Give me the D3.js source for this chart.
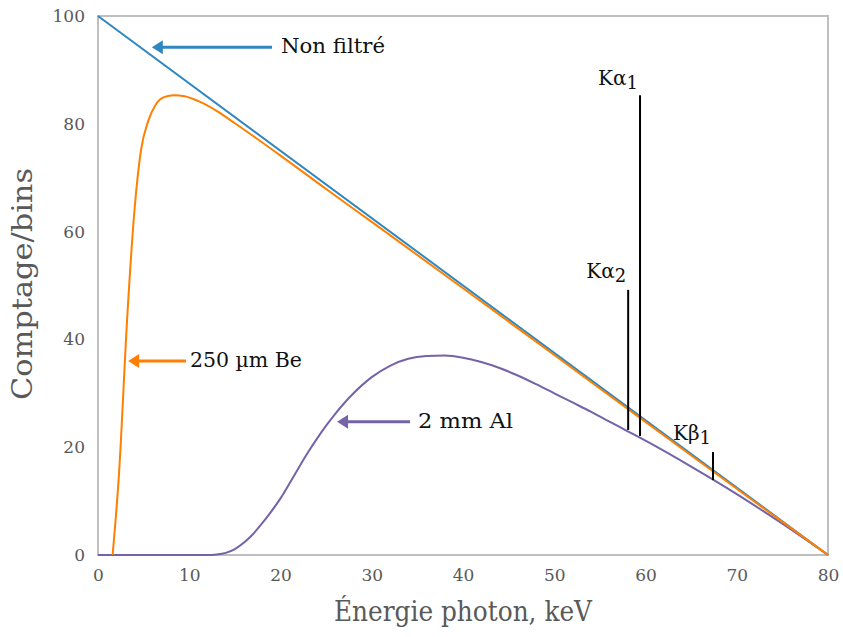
<!DOCTYPE html>
<html><head><meta charset="utf-8">
<script src="https://cdn.jsdelivr.net/npm/d3@7"></script>
<style>body{margin:0;background:#fff}svg{display:block}</style>
</head><body>
<svg id="c" width="843" height="637"></svg>
<script>
const xTicks=[0,10,20,30,40,50,60,70,80];
const yTicks=[0,20,40,60,80,100];
const unfiltered=[[0,100],[80,0]];
const be250=[[1.6,0],[2.3,15],[3.2,44],[4.0,64],[4.7,75],[5.5,80.5],[6.3,83.5],[7.3,85],[8.3,85.3],[9.5,85.1],[11,84.2],[13,82.4],[15,80.1],[20,74.1],[25,67.9],[30,61.8],[40,49.5],[50,37.1],[60,24.7],[70,12.3],[80,0]];
const al2mm=[[0,0],[12,0],[13,0.1],[14,0.4],[15,1.1],[16,2.3],[17,3.9],[18,5.9],[19,8.1],[20,10.5],[21,13.3],[22,16.2],[23,19.0],[24,21.6],[25,24.0],[26,26.2],[27,28.2],[28,30.0],[30,33.0],[32,35.1],[34,36.4],[36,36.9],[38,37],[40,36.6],[42,35.8],[44,34.7],[46,33.3],[48,31.7],[50,30],[52,28.3],[54,26.6],[56,24.8],[58,23],[60,21.2],[65,16.4],[70,11.3],[75,5.8],[80,0]];
const peakNames=["Kα","Kα","Kβ"];
const peakSubs=["2","1","1"];
const peakEnergy=[58.1,59.4,67.4];
const peakBase=[23.2,22.1,13.9];
const peakTop=[49.2,85.3,19.1];
const labelTexts=["Non filtré","250 µm Be","2 mm Al"];
const labelColors=["#2f87c0","#ff7f00","#7563a8"];
// annotation arrows (data coords): start x, tip x, y
const arrowStart=[19.07,9.64,34.2];
const arrowTip=[5.9,3.3,26.2];
const arrowY=[94.2,36.0,24.7];

const svg=d3.select("#c");
const x=d3.scaleLinear().domain([0,80]).range([98,828]);
const y=d3.scaleLinear().domain([0,100]).range([555,16]);
const font="'DejaVu Serif','Liberation Serif',serif";
const gray="#595959";

svg.append("rect").attr("x",x(0)).attr("y",y(100)).attr("width",x(80)-x(0)).attr("height",y(0)-y(100))
  .attr("fill","none").attr("stroke","#bfbfbf").attr("stroke-width",2);

const xa=svg.append("g").attr("transform",`translate(0,${y(0)})`).call(d3.axisBottom(x).tickValues(xTicks).tickSize(0).tickPadding(14));
const ya=svg.append("g").attr("transform",`translate(${x(0)},0)`).call(d3.axisLeft(y).tickValues(yTicks).tickSize(0).tickPadding(13));
[xa,ya].forEach(g=>{g.select(".domain").remove();g.selectAll("text").attr("font-family",font).attr("font-size",17).attr("fill",gray);});

svg.append("text").attr("x",463).attr("y",621).attr("text-anchor","middle").attr("font-family",font).attr("font-size",27).attr("fill",gray)
  .attr("textLength",258).attr("lengthAdjust","spacingAndGlyphs").text("Énergie photon, keV");
svg.append("text").attr("transform","translate(32,284) rotate(-90)").attr("text-anchor","middle").attr("font-family",font).attr("font-size",27).attr("fill",gray)
  .attr("textLength",232).attr("lengthAdjust","spacingAndGlyphs").text("Comptage/bins");

const line=d3.line().x(d=>x(d[0])).y(d=>y(d[1])).curve(d3.curveMonotoneX);
svg.append("path").datum(al2mm).attr("d",line).attr("fill","none").attr("stroke",labelColors[2]).attr("stroke-width",2);
svg.append("path").datum(unfiltered).attr("d",line).attr("fill","none").attr("stroke",labelColors[0]).attr("stroke-width",2);
svg.append("path").datum(be250).attr("d",line).attr("fill","none").attr("stroke",labelColors[1]).attr("stroke-width",2);

peakEnergy.forEach((e,i)=>{
  svg.append("line").attr("x1",x(e)).attr("x2",x(e)).attr("y1",y(peakBase[i])).attr("y2",y(peakTop[i])).attr("stroke","#000").attr("stroke-width",2);
  const t=svg.append("text").attr("x",x(e)-2).attr("y",y(peakTop[i])-(i===1?10:12)).attr("text-anchor","end").attr("font-family",font).attr("font-size",20).attr("fill","#111");
  t.append("tspan").text(peakNames[i]);
  t.append("tspan").attr("dy",4).attr("font-size",18).text(peakSubs[i]);
});

const textWidths=[104,112,95];
const textGaps=[9,4,8];
labelTexts.forEach((s,i)=>{
  const xs=x(arrowStart[i]), xe=x(arrowTip[i]), yy=y(arrowY[i]);
  svg.append("line").attr("x1",xs).attr("x2",xe+10).attr("y1",yy).attr("y2",yy).attr("stroke",labelColors[i]).attr("stroke-width",3);
  svg.append("path").attr("d",`M${xe},${yy} L${xe+11},${yy-7} L${xe+11},${yy+7} Z`).attr("fill",labelColors[i]);
  svg.append("text").attr("x",xs+textGaps[i]).attr("y",yy+6).attr("font-family",font).attr("font-size",21).attr("fill","#111")
    .attr("textLength",textWidths[i]).attr("lengthAdjust","spacingAndGlyphs").text(s);
});
</script>
</body></html>
